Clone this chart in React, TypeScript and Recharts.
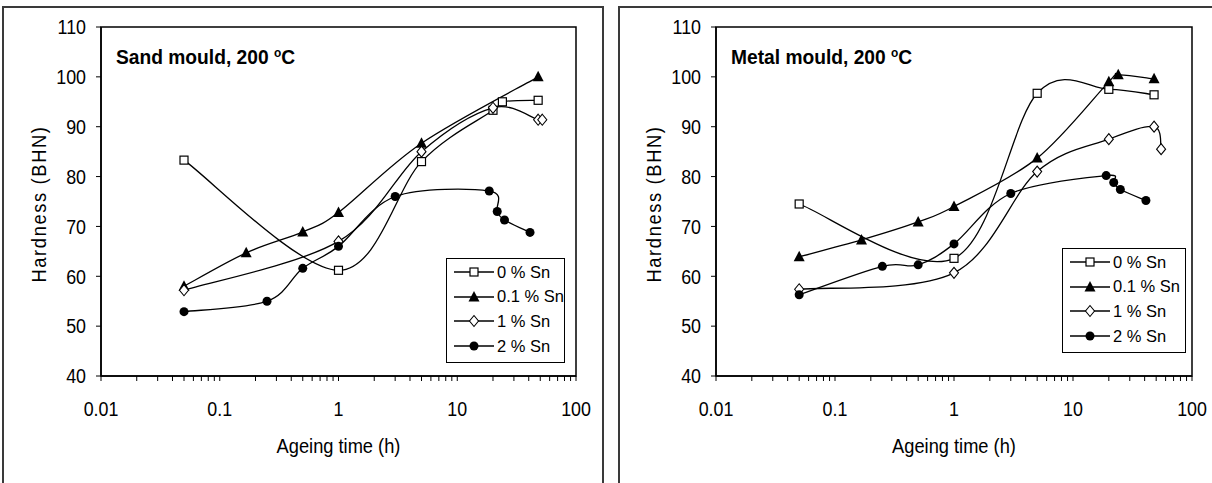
import React from 'react';
import { LineChart, Line, XAxis, YAxis, ReferenceArea, Legend } from 'recharts';

const FONT = "'Liberation Sans', Arial, sans-serif";
const SQUEEZE = 0.87; // reference text is a condensed sans

const SERIES_NAMES = ['0 % Sn', '0.1 % Sn', '1 % Sn', '2 % Sn'];
const MARKERS = ['square', 'triangle', 'diamond', 'circle'];

// sand mould, 200 C : [ageing time (h), hardness (BHN)]
const sand0 = [[0.05, 83.3], [1, 61.2], [5, 83], [20, 93.3], [24, 95], [48, 95.3]];
const sand01 = [[0.05, 58], [0.167, 64.7], [0.5, 68.9], [1, 72.8], [5, 86.7], [48, 100]];
const sand1 = [[0.05, 57.2], [1, 67], [5, 85], [20, 93.8], [48, 91.4], [52, 91.4]];
const sand2 = [[0.05, 52.9], [0.25, 55], [0.5, 61.6], [1, 66], [3, 76], [18.6, 77.1], [21.7, 73], [25, 71.3], [41, 68.8]];

// metal mould, 200 C
const metal0 = [[0.05, 74.5], [1, 63.6], [5, 96.7], [20, 97.5], [48, 96.4]];
const metal01 = [[0.05, 63.9], [0.167, 67.3], [0.5, 70.9], [1, 74], [5, 83.7], [20, 99], [24, 100.4], [48, 99.6]];
const metal1 = [[0.05, 57.4], [1, 60.7], [5, 81], [20, 87.5], [48, 90], [55, 85.5]];
const metal2 = [[0.05, 56.3], [0.25, 62], [0.5, 62.3], [1, 66.5], [3, 76.6], [19, 80.2], [22, 78.8], [25, 77.4], [41, 75.2]];

const X_MAJOR = [0.01, 0.1, 1, 10, 100];
const Y_TICKS = [40, 50, 60, 70, 80, 90, 100, 110];

// log axis: decades plus the 2..9 minor ticks
const X_TICKS = X_MAJOR.flatMap((d, i) =>
  i === X_MAJOR.length - 1 ? [d] : [1, 2, 3, 4, 5, 6, 7, 8, 9].map((m) => d * m)
);

// excel-like smoothed line (catmull-rom as cubic beziers)
const smooth = (context: any) => {
  let pts: number[][] = [];
  return {
    areaStart() {},
    areaEnd() {},
    lineStart() {
      pts = [];
    },
    point(x: number, y: number) {
      pts.push([+x, +y]);
    },
    lineEnd() {
      const n = pts.length;
      if (!n) return;
      context.moveTo(pts[0][0], pts[0][1]);
      for (let i = 0; i < n - 1; i++) {
        const p0 = pts[Math.max(i - 1, 0)];
        const p1 = pts[i];
        const p2 = pts[i + 1];
        const p3 = pts[Math.min(i + 2, n - 1)];
        context.bezierCurveTo(
          p1[0] + (p2[0] - p0[0]) / 6,
          p1[1] + (p2[1] - p0[1]) / 6,
          p2[0] - (p3[0] - p1[0]) / 6,
          p2[1] - (p3[1] - p1[1]) / 6,
          p2[0],
          p2[1]
        );
      }
    },
  };
};

const Marker = ({ kind, cx, cy }: { kind: string; cx: number; cy: number }) => {
  if (kind === 'square')
    return <rect x={cx - 4} y={cy - 4} width={8} height={8} fill="#fff" stroke="#000" strokeWidth={1.2} />;
  if (kind === 'triangle')
    return <polygon points={`${cx},${cy - 6} ${cx - 5.5},${cy + 4.5} ${cx + 5.5},${cy + 4.5}`} fill="#000" />;
  if (kind === 'diamond')
    return (
      <polygon
        points={`${cx},${cy - 5.5} ${cx + 4.5},${cy} ${cx},${cy + 5.5} ${cx - 4.5},${cy}`}
        fill="#fff"
        stroke="#000"
        strokeWidth={1.1}
      />
    );
  return <circle cx={cx} cy={cy} r={4.5} fill="#000" />;
};

// condensed svg text, anchored at (x, baseline)
const SqText = ({ x, y, anchor, size, children, spacing = 0, rotate = 0 }: any) => (
  <text
    transform={`translate(${x} ${y}) rotate(${rotate}) scale(${SQUEEZE} 1)`}
    textAnchor={anchor}
    fontFamily={FONT}
    fontSize={size}
    letterSpacing={spacing}
    fill="#000"
  >
    {children}
  </text>
);

const XTick = (p: any) => {
  const v = p.payload.value;
  if (!X_MAJOR.includes(v)) return <g />;
  return (
    <SqText x={p.x} y={p.y + 14.6} anchor="middle" size={20.5}>
      {String(v)}
    </SqText>
  );
};

const YTick = (p: any) => (
  <SqText x={p.x} y={p.y + 7.3} anchor="end" size={20.5}>
    {String(p.payload.value)}
  </SqText>
);

const LegendBox = ({ width }: { width: number }) => (
  <div
    style={{
      width,
      height: 105,
      boxSizing: 'border-box',
      border: '1px solid #000',
      background: '#fff',
      fontFamily: FONT,
      fontSize: 16.5,
      color: '#000',
      paddingTop: 1,
    }}
  >
    {SERIES_NAMES.map((name, i) => (
      <div key={name} style={{ display: 'flex', alignItems: 'center', height: 24.6 }}>
        <svg width={49} height={20} style={{ flex: 'none' }}>
          <line x1={7} x2={47} y1={10} y2={10} stroke="#000" strokeWidth={1.3} />
          <Marker kind={MARKERS[i]} cx={27} cy={10} />
        </svg>
        <span style={{ marginLeft: 1, whiteSpace: 'nowrap' }}>{name}</span>
      </div>
    ))}
  </div>
);

type PanelProps = {
  title: string;
  series: number[][][];
  left: number;
  yAxisWidth: number;
  rightMargin: number;
  legendLeft: number;
  legendTop: number;
  legendWidth: number;
};

const Panel = ({ title, series, left, yAxisWidth, rightMargin, legendLeft, legendTop, legendWidth }: PanelProps) => {
  const width = 606;
  return (
    <div style={{ position: 'absolute', left, top: 0, width, height: 483 }}>
      <LineChart width={width} height={483} margin={{ top: 27, right: rightMargin, left: 0, bottom: 0 }}>
        <XAxis
          type="number"
          dataKey="x"
          scale="log"
          domain={[0.01, 100]}
          ticks={X_TICKS}
          allowDataOverflow
          interval={0}
          height={107}
          tickSize={5}
          tickMargin={20}
          axisLine={{ stroke: '#000', strokeWidth: 1.5 }}
          tickLine={{ stroke: '#000', strokeWidth: 1 }}
          tick={XTick}
          label={{
            content: ({ viewBox }: any) => (
              <SqText x={viewBox.x + viewBox.width / 2} y={452.5} anchor="middle" size={21}>
                Ageing time (h)
              </SqText>
            ),
          }}
        />
        <YAxis
          type="number"
          dataKey="y"
          domain={[40, 110]}
          ticks={Y_TICKS}
          interval={0}
          allowDataOverflow
          width={yAxisWidth}
          tickSize={5}
          tickMargin={10}
          axisLine={{ stroke: '#000', strokeWidth: 1.5 }}
          tickLine={{ stroke: '#000', strokeWidth: 1 }}
          tick={YTick}
          label={{
            content: ({ viewBox }: any) => (
              <SqText
                x={viewBox.x + yAxisWidth - 55}
                y={viewBox.y + viewBox.height / 2 + 2.5}
                anchor="middle"
                size={21}
                spacing={1.9}
                rotate={-90}
              >
                Hardness (BHN)
              </SqText>
            ),
          }}
        />
        <ReferenceArea x1={0.01} x2={100} y1={40} y2={110} fill="none" stroke="#000" strokeWidth={1.5} ifOverflow="visible" />
        {series.map((pts, i) => (
          <Line
            key={SERIES_NAMES[i]}
            name={SERIES_NAMES[i]}
            data={pts.map(([x, y]) => ({ x, y }))}
            dataKey="y"
            type={smooth as any}
            stroke="#000"
            strokeWidth={1.3}
            dot={(p: any) => <Marker key={`${i}-${p.index}`} kind={MARKERS[i]} cx={p.cx} cy={p.cy} />}
            activeDot={false}
            isAnimationActive={false}
          />
        ))}
        <Legend
          layout="vertical"
          align="center"
          verticalAlign="middle"
          wrapperStyle={{ left: legendLeft, top: legendTop, width: legendWidth }}
          content={() => <LegendBox width={legendWidth} />}
        />
      </LineChart>
      <div
        style={{
          position: 'absolute',
          left: yAxisWidth + 15,
          top: 47,
          fontFamily: FONT,
          fontWeight: 'bold',
          fontSize: 20,
          lineHeight: 1,
          whiteSpace: 'nowrap',
          color: '#000',
          transform: 'scaleX(0.96)',
          transformOrigin: 'left',
        }}
      >
        {title}, 200 <span style={{ fontSize: '0.62em', verticalAlign: '0.6em' }}>o</span>C
      </div>
    </div>
  );
};

export default function App() {
  return (
    <div style={{ position: 'absolute', left: 0, top: 0, width: 1212, height: 483, overflow: 'hidden', background: '#fff' }}>
      <div
        style={{
          position: 'absolute',
          left: 2,
          top: 6,
          width: 602,
          height: 600,
          boxSizing: 'border-box',
          border: '2px solid #3a3a3a',
        }}
      />
      <div
        style={{
          position: 'absolute',
          left: 618,
          top: 6,
          width: 700,
          height: 600,
          boxSizing: 'border-box',
          border: '2px solid #3a3a3a',
        }}
      />
      <Panel
        title="Sand mould"
        series={[sand0, sand01, sand1, sand2]}
        left={0}
        yAxisWidth={101}
        rightMargin={30}
        legendLeft={446}
        legendTop={258}
        legendWidth={119}
      />
      <Panel
        title="Metal mould"
        series={[metal0, metal01, metal1, metal2]}
        left={606}
        yAxisWidth={110}
        rightMargin={20}
        legendLeft={456}
        legendTop={248}
        legendWidth={124}
      />
    </div>
  );
}
